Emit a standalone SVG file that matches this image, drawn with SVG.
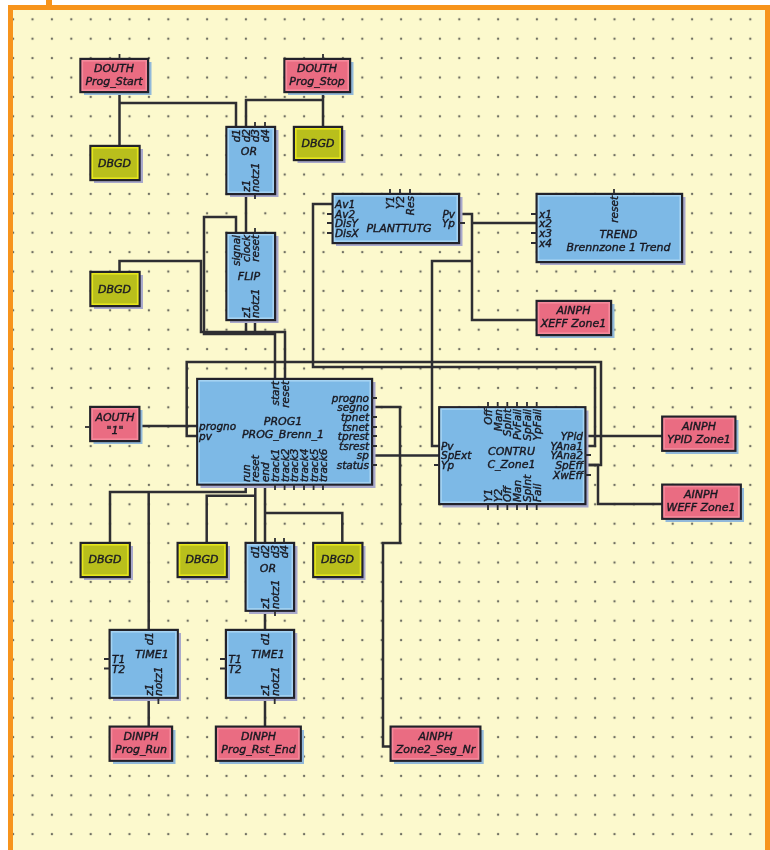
<svg xmlns="http://www.w3.org/2000/svg" width="770" height="850" viewBox="0 0 770 850">
<style>
text{font-family:"DejaVu Sans",Verdana,sans-serif;font-style:italic;font-size:11px;fill:#1a1a22;stroke:#1a1a22;stroke-width:.4px}
text:not(.m){font-size:10.5px}
.m{text-anchor:middle}.e{text-anchor:end}
.box,.pk,.yl{stroke:#23232b;stroke-width:2.4}
.box{fill:#7db9e6}.pk{fill:#ea6c82}.yl{fill:#b9bf1e}
.ibox,.ipk,.iyl{fill:none;stroke-width:1.6}
.ibox{stroke:#a5d3f2}.ipk{stroke:#f58a9c}.iyl{stroke:#e6e61e}
.sb{fill:#a9a9cc}.sp{fill:#92b9da}
.w,.pin{fill:none;stroke:#2e2e33;stroke-width:2.5}
.pin{stroke-width:1.8}
</style>
<defs>
<pattern id="grid" patternUnits="userSpaceOnUse" x="3.4" y="9.6" width="19.4" height="19.4">
<circle cx="9.7" cy="9.7" r="1.2" fill="#6f6f62"/>
</pattern>
<filter id="soft" x="0" y="0" width="1" height="1"><feGaussianBlur stdDeviation="0.45"/></filter>
</defs>
<g filter="url(#soft)">
<rect width="770" height="850" fill="#fff"/>
<rect x="46" y="0" width="6" height="8" fill="#f7941d"/>
<rect x="10.500" y="7.500" width="757" height="850" fill="#fcf9cd" stroke="#f7941d" stroke-width="5"/>
<rect x="13" y="10" width="752" height="840" fill="url(#grid)"/>

<g id="connectors">
<path class="w" d="M119.500 92V146M119.500 103H236V127"/>
<path class="w" d="M323 92V127M323 100H246V127"/>
<path class="w" d="M246 194V233"/>
<path class="w" d="M236 233V217H204V334H275V379"/>
<path class="w" d="M119.500 272V261H201V332H285V379"/>
<path class="w" d="M246 320V332M255 320V334"/>
<path class="w" d="M333 204H313V367H595V446H585"/>
<path class="w" d="M197 436H186.700V362H601V465H585"/>
<path class="w" d="M585 465H598V504H662"/>
<path class="w" d="M585 436H662"/>
<path class="w" d="M459 214H472V320H537"/>
<path class="w" d="M472 223H537"/>
<path class="w" d="M472 261H432V446H439"/>
<path class="w" d="M139 426H197"/>
<path class="w" d="M372 455.500H439"/>
<path class="w" d="M372 407H400V543H383V746.500H391"/>
<path class="w" d="M245.700 484V492H110V543M148.700 492V630"/>
<path class="w" d="M255.300 484V543M255.300 495.700H206.700V543"/>
<path class="w" d="M265 484V543M265 513H342.300V543"/>
<path class="w" d="M265 610V630M148.700 697V727M265 697V727"/>
</g>

<g id="douth-start"><rect class="sp" x="84" y="62" width="67.500" height="33"/><rect class="pk" x="80.500" y="59" width="67.500" height="33"/><rect class="ipk" x="82.300" y="60.800" width="63.900" height="29.400"/><path class="pin" d="M119.500 54V59"/><text class="m" x="114" y="72">DOUTH</text><text class="m" x="114" y="85">Prog_Start</text></g>
<g id="douth-stop"><rect class="sp" x="288" y="62" width="65.500" height="33"/><rect class="pk" x="284.500" y="59" width="65.500" height="33"/><rect class="ipk" x="286.300" y="60.800" width="61.900" height="29.400"/><path class="pin" d="M323 54V59"/><text class="m" x="317" y="72">DOUTH</text><text class="m" x="317" y="85">Prog_Stop</text></g>

<g id="dbgd-1"><rect class="sb" x="94" y="149" width="49" height="34"/><rect class="yl" x="90.500" y="146" width="49" height="34"/><rect class="iyl" x="92.300" y="147.800" width="45.400" height="30.400"/><text class="m" x="114.500" y="167">DBGD</text></g>
<g id="dbgd-2"><rect class="sb" x="297.500" y="130" width="48" height="33"/><rect class="yl" x="294" y="127" width="48" height="33"/><rect class="iyl" x="295.800" y="128.800" width="44.400" height="29.400"/><text class="m" x="318" y="147">DBGD</text></g>
<g id="dbgd-3"><rect class="sb" x="94" y="275" width="49" height="34"/><rect class="yl" x="90.500" y="272" width="49" height="34"/><rect class="iyl" x="92.300" y="273.800" width="45.400" height="30.400"/><text class="m" x="114.500" y="293">DBGD</text></g>
<g id="dbgd-4"><rect class="sb" x="84" y="546" width="49" height="34"/><rect class="yl" x="80.700" y="543" width="49" height="34"/><rect class="iyl" x="82.500" y="544.800" width="45.400" height="30.400"/><text class="m" x="105" y="563">DBGD</text></g>
<g id="dbgd-5"><rect class="sb" x="181" y="546" width="49" height="34"/><rect class="yl" x="177.700" y="543" width="49" height="34"/><rect class="iyl" x="179.500" y="544.800" width="45.400" height="30.400"/><text class="m" x="202" y="563">DBGD</text></g>
<g id="dbgd-6"><rect class="sb" x="316.500" y="546" width="49" height="34"/><rect class="yl" x="313.300" y="543" width="49" height="34"/><rect class="iyl" x="315.100" y="544.800" width="45.400" height="30.400"/><text class="m" x="337.500" y="563">DBGD</text></g>

<g id="or-1"><rect class="sb" x="230" y="130" width="48.500" height="67"/><rect class="box" x="226.500" y="127" width="48.500" height="67"/><rect class="ibox" x="228.300" y="128.800" width="44.900" height="63.400"/><path class="pin" d="M255 122V127M265 122V127M255 194V199"/>
<text class="e" transform="translate(240,129) rotate(-90)">d1</text><text class="e" transform="translate(250,129) rotate(-90)">d2</text><text class="e" transform="translate(259,129) rotate(-90)">d3</text><text class="e" transform="translate(269,129) rotate(-90)">d4</text>
<text class="m" x="249" y="155">OR</text>
<text transform="translate(250,192) rotate(-90)">z1</text><text transform="translate(259,192) rotate(-90)">notz1</text></g>

<g id="flip"><rect class="sb" x="230" y="236" width="48.500" height="87"/><rect class="box" x="226.500" y="233" width="48.500" height="87"/><rect class="ibox" x="228.300" y="234.800" width="44.900" height="83.400"/><path class="pin" d="M255 228V233"/>
<text class="e" transform="translate(240,235) rotate(-90)">signal</text><text class="e" transform="translate(250,235) rotate(-90)">clock</text><text class="e" transform="translate(259,235) rotate(-90)">reset</text>
<text class="m" x="249" y="280">FLIP</text>
<text transform="translate(250,318) rotate(-90)">z1</text><text transform="translate(259,318) rotate(-90)">notz1</text></g>

<g id="planttutg"><rect class="sb" x="336" y="197" width="126.500" height="49"/><rect class="box" x="332.700" y="194" width="126.300" height="49"/><rect class="ibox" x="334.500" y="195.800" width="122.700" height="45.400"/><path class="pin" d="M327 214H333M327 223H333M327 233H333M390 189V194M400 189V194M410 189V194M459 223H465"/>
<text x="335" y="208">Av1</text><text x="335" y="218">Av2</text><text x="335" y="227">DisY</text><text x="335" y="237">DisX</text>
<text class="e" transform="translate(394,196) rotate(-90)">Y1</text><text class="e" transform="translate(404,196) rotate(-90)">Y2</text><text class="e" transform="translate(414,196) rotate(-90)">Res</text>
<text class="m" x="399" y="232">PLANTTUTG</text>
<text class="e" x="455" y="218">Pv</text><text class="e" x="455" y="227">Yp</text></g>

<g id="trend"><rect class="sb" x="540" y="197" width="145.500" height="68"/><rect class="box" x="536.700" y="194" width="145.300" height="68"/><rect class="ibox" x="538.500" y="195.800" width="141.700" height="64.400"/><path class="pin" d="M531 214H537M531 233H537M531 243H537M614 189V194"/>
<text x="539" y="218">x1</text><text x="539" y="227">x2</text><text x="539" y="237">x3</text><text x="539" y="247">x4</text>
<text class="e" transform="translate(618,196) rotate(-90)">reset</text>
<text class="m" x="618.500" y="238">TREND</text><text class="m" x="618.500" y="251">Brennzone 1 Trend</text></g>

<g id="ainph-xeff"><rect class="sp" x="540" y="304" width="74.500" height="34"/><rect class="pk" x="536.700" y="301" width="74.300" height="34"/><rect class="ipk" x="538.500" y="302.800" width="70.700" height="30.400"/><text class="m" x="573.500" y="314">AINPH</text><text class="m" x="573.500" y="327">XEFF Zone1</text></g>

<g id="aouth"><rect class="sp" x="93.500" y="410" width="49" height="34"/><rect class="pk" x="90.300" y="407" width="49" height="34"/><rect class="ipk" x="92.100" y="408.800" width="45.400" height="30.400"/><path class="pin" d="M85 427H90"/><text class="m" x="115" y="421">AOUTH</text><text class="m" x="115" y="434">"1"</text></g>

<g id="prog1"><rect class="sb" x="200.500" y="382" width="175" height="106"/><rect class="box" x="197.300" y="379" width="174.700" height="105.500"/><rect class="ibox" x="199.100" y="380.800" width="171.100" height="101.900"/>
<path class="pin" d="M372 398H377M372 417H377M372 427H377M372 436H377M372 446H377M372 465H377M275 484V490M284.600 484V490M294 484V490M304 484V490M313.600 484V490M323 484V490"/>
<text x="199" y="430">progno</text><text x="199" y="440">pv</text>
<text class="e" transform="translate(279,381) rotate(-90)">start</text><text class="e" transform="translate(289,381) rotate(-90)">reset</text>
<text class="m" x="283" y="425">PROG1</text><text class="m" x="283" y="438">PROG_Brenn_1</text>
<text class="e" x="369" y="402">progno</text><text class="e" x="369" y="411">segno</text><text class="e" x="369" y="421">tpnet</text><text class="e" x="369" y="431">tsnet</text><text class="e" x="369" y="440">tprest</text><text class="e" x="369" y="450">tsrest</text><text class="e" x="369" y="459">sp</text><text class="e" x="369" y="469">status</text>
<text transform="translate(249.500,482) rotate(-90)">run</text><text transform="translate(259,482) rotate(-90)">reset</text><text transform="translate(269,482) rotate(-90)">end</text><text transform="translate(279,482) rotate(-90)">track1</text><text transform="translate(288.500,482) rotate(-90)">track2</text><text transform="translate(298,482) rotate(-90)">track3</text><text transform="translate(308,482) rotate(-90)">track4</text><text transform="translate(317.500,482) rotate(-90)">track5</text><text transform="translate(327,482) rotate(-90)">track6</text></g>

<g id="contru"><rect class="sb" x="442.500" y="410.500" width="146" height="97"/><rect class="box" x="439.300" y="407.300" width="146" height="96.700"/><rect class="ibox" x="441.100" y="409.100" width="142.400" height="93.100"/>
<path class="pin" d="M434 465H439M488 402V407M497.700 402V407M507.300 402V407M517 402V407M527 402V407M536.700 402V407M488 504V510M497.700 504V510M507.300 504V510M517 504V510M527 504V510M536.700 504V510M585 455H591M585 475H591"/>
<text x="441" y="450">Pv</text><text x="441" y="459">SpExt</text><text x="441" y="469">Yp</text>
<text class="e" transform="translate(492,409) rotate(-90)">Off</text><text class="e" transform="translate(501.700,409) rotate(-90)">Man</text><text class="e" transform="translate(511.300,409) rotate(-90)">SpInt</text><text class="e" transform="translate(521,409) rotate(-90)">PvFail</text><text class="e" transform="translate(531,409) rotate(-90)">SpFail</text><text class="e" transform="translate(540.700,409) rotate(-90)">YpFail</text>
<text class="m" x="511.500" y="455">CONTRU</text><text class="m" x="511.500" y="468">C_Zone1</text>
<text transform="translate(492,502) rotate(-90)">Y1</text><text transform="translate(501.700,502) rotate(-90)">Y2</text><text transform="translate(511.300,502) rotate(-90)">Off</text><text transform="translate(521,502) rotate(-90)">Man</text><text transform="translate(531,502) rotate(-90)">SpInt</text><text transform="translate(540.700,502) rotate(-90)">Fail</text>
<text class="e" x="583" y="440">YPid</text><text class="e" x="583" y="450">YAna1</text><text class="e" x="583" y="459">YAna2</text><text class="e" x="583" y="469">SpEff</text><text class="e" x="583" y="479">XwEff</text></g>

<g id="ainph-ypid"><rect class="sp" x="665.500" y="420" width="73" height="34"/><rect class="pk" x="662.300" y="416.700" width="73" height="34"/><rect class="ipk" x="664.100" y="418.500" width="69.400" height="30.400"/><text class="m" x="699" y="430">AINPH</text><text class="m" x="699" y="443">YPID Zone1</text></g>
<g id="ainph-weff"><rect class="sp" x="665.500" y="488" width="78.500" height="34"/><rect class="pk" x="662.300" y="484.700" width="78.400" height="34"/><rect class="ipk" x="664.100" y="486.500" width="74.800" height="30.400"/><text class="m" x="701" y="498">AINPH</text><text class="m" x="701" y="511">WEFF Zone1</text></g>

<g id="or-2"><rect class="sb" x="249" y="546" width="48.500" height="68"/><rect class="box" x="245.700" y="543" width="48.300" height="67.700"/><rect class="ibox" x="247.500" y="544.800" width="44.700" height="64.100"/><path class="pin" d="M275 538V543M284 538V543M275 611V616"/>
<text class="e" transform="translate(259,545) rotate(-90)">d1</text><text class="e" transform="translate(269,545) rotate(-90)">d2</text><text class="e" transform="translate(279,545) rotate(-90)">d3</text><text class="e" transform="translate(288,545) rotate(-90)">d4</text>
<text class="m" x="268" y="572">OR</text>
<text transform="translate(269,609) rotate(-90)">z1</text><text transform="translate(279,609) rotate(-90)">notz1</text></g>

<g id="time-1"><rect class="sb" x="113" y="633" width="68" height="68"/><rect class="box" x="109.700" y="630" width="68" height="67.700"/><rect class="ibox" x="111.500" y="631.800" width="64.400" height="64.100"/><path class="pin" d="M104 659H110M104 668.500H110M158.400 698V704"/>
<text class="e" transform="translate(152.700,632) rotate(-90)">d1</text><text class="m" x="152" y="658">TIME1</text><text x="112" y="663">T1</text><text x="112" y="673">T2</text>
<text transform="translate(152.700,696) rotate(-90)">z1</text><text transform="translate(162.400,696) rotate(-90)">notz1</text></g>
<g id="time-2"><rect class="sb" x="229.300" y="633" width="68" height="68"/><rect class="box" x="226" y="630" width="68" height="67.700"/><rect class="ibox" x="227.800" y="631.800" width="64.400" height="64.100"/><path class="pin" d="M220 659H226M220 668.500H226M274.700 698V704"/>
<text class="e" transform="translate(269,632) rotate(-90)">d1</text><text class="m" x="268" y="658">TIME1</text><text x="228.500" y="663">T1</text><text x="228.500" y="673">T2</text>
<text transform="translate(269,696) rotate(-90)">z1</text><text transform="translate(278.700,696) rotate(-90)">notz1</text></g>

<g id="dinph-run"><rect class="sp" x="113" y="730" width="62.500" height="34"/><rect class="pk" x="109.700" y="726.700" width="62.300" height="34"/><rect class="ipk" x="111.500" y="728.500" width="58.700" height="30.400"/><text class="m" x="141" y="740">DINPH</text><text class="m" x="141" y="753">Prog_Run</text></g>
<g id="dinph-rst"><rect class="sp" x="219.300" y="730" width="84.700" height="34"/><rect class="pk" x="216" y="726.700" width="84.700" height="34"/><rect class="ipk" x="217.800" y="728.500" width="81.100" height="30.400"/><text class="m" x="258.500" y="740">DINPH</text><text class="m" x="258.500" y="753">Prog_Rst_End</text></g>
<g id="ainph-zone2"><rect class="sp" x="394" y="730" width="89.700" height="34"/><rect class="pk" x="390.700" y="726.700" width="89.600" height="34"/><rect class="ipk" x="392.500" y="728.500" width="86" height="30.400"/><text class="m" x="435.500" y="740">AINPH</text><text class="m" x="435.500" y="753">Zone2_Seg_Nr</text></g>
</g>
</svg>
